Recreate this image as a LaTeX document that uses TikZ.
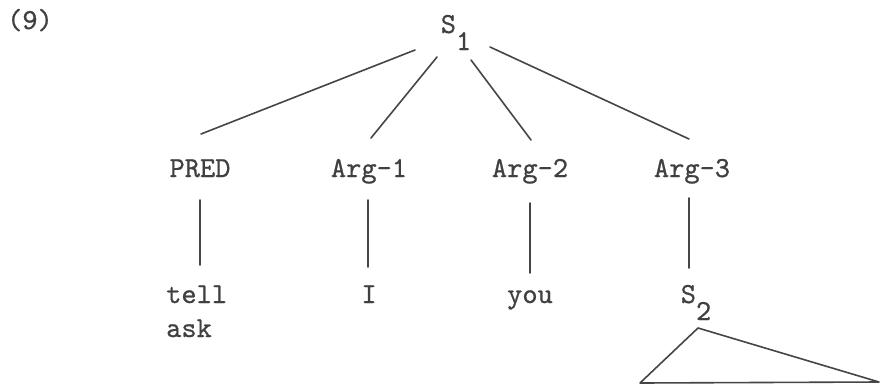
\documentclass[tikz,border=0pt]{standalone}
\usepackage{fontspec}
\newfontfamily\twfont{lmmono10-regular.otf}[FakeBold=0.7]
\definecolor{txt}{HTML}{404040}
\definecolor{ln}{HTML}{454545}
\tikzset{
  lbl/.style={font=\fontsize{29}{34}\selectfont\twfont, text=txt, inner sep=0pt, anchor=base},
  lblw/.style={lbl, anchor=base west},
  edge/.style={draw=ln, line width=1.6pt, line cap=round},
}
\begin{document}
\begin{tikzpicture}[x=1pt,y=-1pt]
\useasboundingbox (0,0) rectangle (882,386);
% labels
\node[lbl] (ex) at (30,29) {(9)};
\node[lbl] (s1) at (456,33) {S\raisebox{-17pt}{1}};
\node[lbl] (pred) at (200,177) {PRED};
\node[lbl] (arg1) at (369,177) {Arg-1};
\node[lbl] (arg2) at (530,177) {Arg-2};
\node[lbl] (arg3) at (692,177) {Arg-3};
\node[lblw] (tell) at (166,303) {tell};
\node[lblw] (ask) at (166,337) {ask};
\node[lbl] (I) at (369,303) {I};
\node[lbl] (you) at (530,303) {you};
\node[lbl] (s2) at (696,303) {S\raisebox{-17pt}{2}};
% branch end points
\coordinate (s1a) at (415,50);
\coordinate (s1b) at (437,57);
\coordinate (s1c) at (471,60);
\coordinate (s1d) at (490,47);
\coordinate (predT) at (201,134);
\coordinate (arg1T) at (371,138);
\coordinate (arg2T) at (531,140);
\coordinate (arg3T) at (689,139);
\draw[edge] (s1a) -- (predT);
\draw[edge] (s1b) -- (arg1T);
\draw[edge] (s1c) -- (arg2T);
\draw[edge] (s1d) -- (arg3T);
% vertical lines
\coordinate (predB) at (200,200);
\coordinate (tellT) at (200,265);
\coordinate (arg1B) at (368,200);
\coordinate (IT) at (368,267);
\coordinate (arg2B) at (530,203);
\coordinate (youT) at (530,273);
\coordinate (arg3B) at (689,198);
\coordinate (s2T) at (689,268);
\draw[edge] (predB) -- (tellT);
\draw[edge] (arg1B) -- (IT);
\draw[edge] (arg2B) -- (youT);
\draw[edge] (arg3B) -- (s2T);
% triangle
\coordinate (triA) at (698,328);
\coordinate (triL) at (640,383);
\coordinate (triR) at (879,382);
\draw[edge, line join=round] (triA) -- (triL) -- (triR) -- cycle;
\end{tikzpicture}
\end{document}
